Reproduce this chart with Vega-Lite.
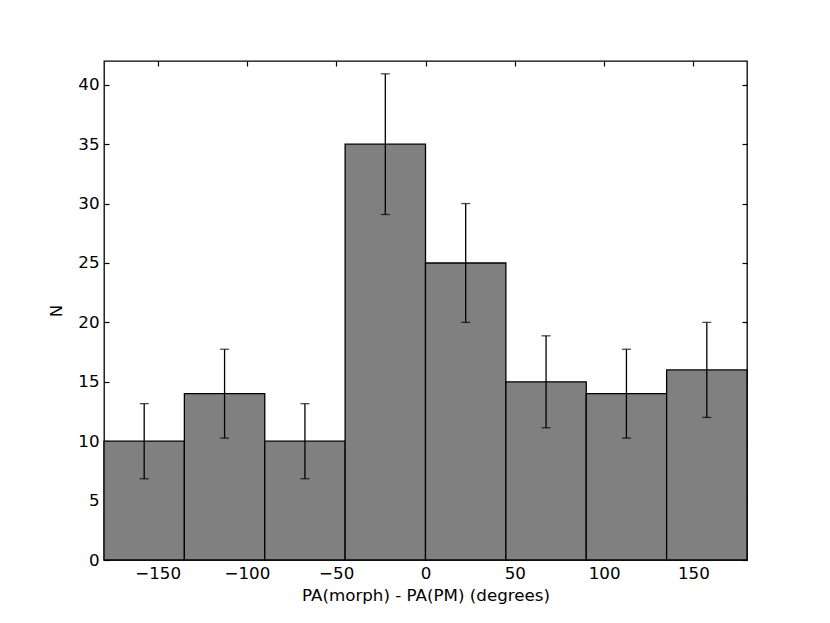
{
  "$schema": "https://vega.github.io/schema/vega-lite/v6.json",
  "width": 643,
  "height": 499,
  "autosize": {"type": "none"},
  "padding": {"left": 104, "top": 61, "right": 83, "bottom": 63},
  "background": "white",
  "config": {
    "view": {"stroke": "black", "strokeWidth": 1.3},
    "font": "DejaVu Sans",
    "axis": {
      "labelFont": "DejaVu Sans",
      "titleFont": "DejaVu Sans",
      "labelFontSize": 16.7,
      "titleFontSize": 16.7,
      "titleFontWeight": "normal",
      "labelColor": "black",
      "titleColor": "black",
      "tickColor": "black",
      "tickWidth": 1.2,
      "domain": false,
      "grid": false
    }
  },
  "data": {
    "values": [
      {"start": -180, "end": -135, "center": -157.5, "count": 10, "lo": 6.84, "hi": 13.16},
      {"start": -135, "end": -90, "center": -112.5, "count": 14, "lo": 10.26, "hi": 17.74},
      {"start": -90, "end": -45, "center": -67.5, "count": 10, "lo": 6.84, "hi": 13.16},
      {"start": -45, "end": 0, "center": -22.5, "count": 35, "lo": 29.08, "hi": 40.92},
      {"start": 0, "end": 45, "center": 22.5, "count": 25, "lo": 20, "hi": 30},
      {"start": 45, "end": 90, "center": 67.5, "count": 15, "lo": 11.13, "hi": 18.87},
      {"start": 90, "end": 135, "center": 112.5, "count": 14, "lo": 10.26, "hi": 17.74},
      {"start": 135, "end": 180, "center": 157.5, "count": 16, "lo": 12, "hi": 20}
    ]
  },
  "resolve": {"axis": {"x": "independent", "y": "independent"}},
  "layer": [
    {
      "mark": {"type": "bar", "fill": "#808080", "stroke": "black", "strokeWidth": 1.3},
      "encoding": {
        "x": {
          "field": "start", "type": "quantitative",
          "scale": {"domain": [-180, 180], "nice": false, "zero": false, "padding": 0},
          "axis": {"orient": "bottom", "values": [-150, -100, -50, 0, 50, 100, 150], "tickSize": -5, "labelPadding": 10, "title": "PA(morph) - PA(PM) (degrees)", "titlePadding": 6}
        },
        "x2": {"field": "end"},
        "y": {
          "field": "count", "type": "quantitative",
          "scale": {"domain": [0, 42], "nice": false, "padding": 0},
          "axis": {"orient": "left", "values": [0, 5, 10, 15, 20, 25, 30, 35, 40], "tickSize": -5, "labelPadding": 10, "title": "N", "titlePadding": 12}
        },
        "y2": {"datum": 0}
      }
    },
    {
      "mark": {"type": "rule", "color": "black", "strokeWidth": 1.3},
      "encoding": {
        "x": {
          "field": "center", "type": "quantitative",
          "axis": {"orient": "top", "values": [-150, -100, -50, 0, 50, 100, 150], "tickSize": -5, "labels": false, "title": null}
        },
        "y": {
          "field": "lo", "type": "quantitative",
          "axis": {"orient": "right", "values": [0, 5, 10, 15, 20, 25, 30, 35, 40], "tickSize": -5, "labels": false, "title": null}
        },
        "y2": {"field": "hi"}
      }
    },
    {
      "mark": {"type": "tick", "orient": "horizontal", "color": "black", "size": 9, "thickness": 1.3},
      "encoding": {
        "x": {"field": "center", "type": "quantitative", "axis": null},
        "y": {"field": "lo", "type": "quantitative", "axis": null}
      }
    },
    {
      "mark": {"type": "tick", "orient": "horizontal", "color": "black", "size": 9, "thickness": 1.3},
      "encoding": {
        "x": {"field": "center", "type": "quantitative", "axis": null},
        "y": {"field": "hi", "type": "quantitative", "axis": null}
      }
    }
  ]
}
